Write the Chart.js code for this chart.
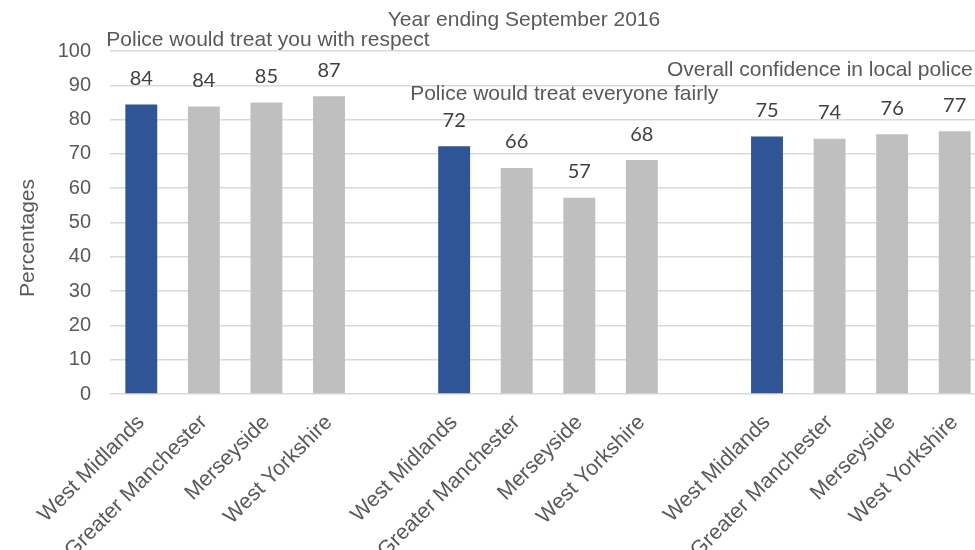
<!DOCTYPE html>
<html>
<head>
<meta charset="utf-8">
<script src="https://cdn.jsdelivr.net/npm/chart.js@4"></script>
<style>
  html, body { margin: 0; padding: 0; background: #fff; overflow: hidden; }
  #wrap { width: 975px; height: 550px; overflow: hidden; }
</style>
</head>
<body>
<div id="wrap"><canvas id="grafico" width="990" height="550"></canvas></div>
<script>
const AREAS = ['West Midlands', 'Greater Manchester', 'Merseyside', 'West Yorkshire'];
const RESPEITO = [84.4, 83.8, 85.0, 86.8];   // Police would treat you with respect
const JUSTICA = [72.2, 65.9, 57.2, 68.2];    // Police would treat everyone fairly
const CONFIANCA = [75.1, 74.4, 75.7, 76.6];  // Overall confidence in local police
const GRUPOS = ['Police would treat you with respect', 'Police would treat everyone fairly', 'Overall confidence in local police'];
const TITULO = 'Year ending September 2016';
const TITULO_Y = 'Percentages';
const TICKS_Y = [0, 10, 20, 30, 40, 50, 60, 70, 80, 90, 100];

// 4 areas + espaco vazio entre os grupos
const categorias = [...AREAS, '', ...AREAS, '', ...AREAS];
const valores = [...RESPEITO, null, ...JUSTICA, null, ...CONFIANCA];
const cores = categorias.map(c => c === 'West Midlands' ? '#2F5597' : '#BFBFBF');

const FONTE = '"Liberation Sans", Arial';

const textos = {
    id: 'textos',
    afterDatasetsDraw(chart) {
        const ctx = chart.ctx;
        const x = chart.scales.x, y = chart.scales.y;
        ctx.save();
        // rotulos dos valores
        ctx.font = '20px Lato';
        ctx.fillStyle = '#404040';
        ctx.textAlign = 'center';
        ctx.textBaseline = 'middle';
        chart.getDatasetMeta(0).data.forEach((bar, i) => {
            if (valores[i] == null) return;
            ctx.fillText(Math.round(valores[i]), bar.x, bar.y - 26);
        });
        // titulos dos grupos
        ctx.font = '21px ' + FONTE;
        ctx.fillStyle = '#595959';
        ctx.textAlign = 'left';
        ctx.fillText(GRUPOS[0], x.getPixelForValue(0) - 35, y.getPixelForValue(103.2));
        ctx.fillText(GRUPOS[1], x.getPixelForValue(5) - 44, y.getPixelForValue(87.5));
        ctx.textAlign = 'right';
        ctx.fillText(GRUPOS[2], x.getPixelForValue(13) + 18, y.getPixelForValue(94.5));
        ctx.textAlign = 'center';
        ctx.fillText(TITULO, 524, 20);
        // titulo do eixo Y
        ctx.translate(28, y.getPixelForValue(45.5));
        ctx.rotate(-Math.PI / 2);
        ctx.fillText(TITULO_Y, 0, 0);
        ctx.restore();
    }
};

new Chart(document.getElementById('grafico').getContext('2d'), {
    type: 'bar',
    data: {
        labels: categorias,
        datasets: [{
            data: valores,
            backgroundColor: cores,
            categoryPercentage: 1,
            barPercentage: 0.51
        }]
    },
    options: {
        responsive: false,
        animation: false,
        layout: { padding: { top: 51, right: 4, left: 0, bottom: 0 } },
        plugins: { legend: { display: false }, tooltip: { enabled: false } },
        scales: {
            x: {
                grid: { display: false },
                border: { display: false },
                ticks: {
                    autoSkip: false,
                    minRotation: 45,
                    maxRotation: 45,
                    padding: 8,
                    color: '#595959',
                    font: { family: FONTE, size: 21.5 }
                },
                afterFit(scale) { scale.height = 156; }
            },
            y: {
                min: 0,
                max: 100,
                afterBuildTicks(scale) { scale.ticks = TICKS_Y.map(v => ({ value: v })); },
                grid: { color: '#D9D9D9', lineWidth: 1.5, drawTicks: false },
                border: { display: false },
                ticks: {
                    padding: 19,
                    color: '#595959',
                    font: { family: FONTE, size: 20 }
                },
                afterFit(scale) { scale.width = 110; }
            }
        }
    },
    plugins: [textos]
});
</script>
</body>
</html>
